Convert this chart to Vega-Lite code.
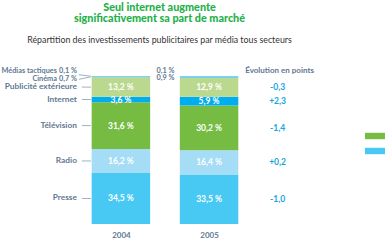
{
  "$schema": "https://vega.github.io/schema/vega-lite/v6.json",
  "width": 385,
  "height": 192,
  "autosize": {"type": "none"},
  "padding": {"top": 48, "left": 0, "right": 0, "bottom": 0},
  "background": "white",
  "config": {
    "font": "Lato",
    "view": {"stroke": null},
    "locale": {
      "number": {
        "decimal": ",",
        "thousands": "\u00a0",
        "grouping": [3],
        "currency": ["", "\u00a0€"],
        "percent": "\u00a0%",
        "minus": "-"
      }
    }
  },
  "title": {
    "text": ["Seul internet augmente", "significativement sa part de marché"],
    "subtitle": "Répartition des investissements publicitaires par  média tous secteurs",
    "anchor": "middle",
    "dx": -33,
    "color": "#1fb14a",
    "fontSize": 10.8,
    "fontWeight": 900,
    "lineHeight": 11,
    "subtitleColor": "#333333",
    "subtitleFontSize": 8.8,
    "subtitlePadding": 12,
    "offset": 3
  },
  "data": {
    "values": [
      {"year": 2004, "media": "Presse", "order": 1, "share": 0.345},
      {"year": 2004, "media": "Radio", "order": 2, "share": 0.162},
      {"year": 2004, "media": "Télévision", "order": 3, "share": 0.316},
      {"year": 2004, "media": "Internet", "order": 4, "share": 0.036},
      {"year": 2004, "media": "Publicité extérieure", "order": 5, "share": 0.132},
      {"year": 2004, "media": "Cinéma", "order": 6, "share": 0.007},
      {"year": 2004, "media": "Médias tactiques", "order": 7, "share": 0.001},
      {"year": 2005, "media": "Presse", "order": 1, "share": 0.335, "evol": -1.0},
      {"year": 2005, "media": "Radio", "order": 2, "share": 0.164, "evol": 0.2},
      {"year": 2005, "media": "Télévision", "order": 3, "share": 0.302, "evol": -1.4},
      {"year": 2005, "media": "Internet", "order": 4, "share": 0.059, "evol": 2.3},
      {"year": 2005, "media": "Publicité extérieure", "order": 5, "share": 0.129, "evol": -0.3},
      {"year": 2005, "media": "Cinéma", "order": 6, "share": 0.009},
      {"year": 2005, "media": "Médias tactiques", "order": 7, "share": 0.001}
    ]
  },
  "transform": [
    {"stack": "share", "groupby": ["year"], "sort": [{"field": "order"}], "as": ["lo", "hi"]},
    {"fold": ["lo", "hi"], "as": ["edge", "pos"]},
    {
      "aggregate": [{"op": "mean", "field": "pos", "as": "mid"}],
      "groupby": ["year", "media", "order", "share", "evol", "lo", "hi"]
    }
  ],
  "encoding": {
    "x": {
      "field": "year",
      "type": "quantitative",
      "scale": {"domain": [2002.6851, 2006.9392], "nice": false, "zero": false},
      "axis": {
        "values": [2004, 2005],
        "format": "d",
        "ticks": false,
        "domain": false,
        "grid": false,
        "labelPadding": 0,
        "offset": -9,
        "title": null,
        "labelColor": "#5f7892",
        "labelFontSize": 8,
        "labelFontWeight": "bold",
        "labelFlush": false
      }
    }
  },
  "layer": [
    {
      "mark": {"type": "bar", "size": 58.5},
      "encoding": {
        "y": {"field": "lo", "type": "quantitative", "scale": {"domain": [-0.1081, 1.1892], "nice": false, "zero": false}, "axis": null},
        "y2": {"field": "hi"},
        "color": {
          "field": "media",
          "type": "nominal",
          "scale": {
            "domain": ["Presse", "Radio", "Télévision", "Internet", "Publicité extérieure", "Cinéma", "Médias tactiques"],
            "range": ["#48c9f4", "#a5dcf6", "#76bc43", "#00aeef", "#bad88e", "#4fc3f0", "#1b355e"]
          },
          "legend": {
            "values": ["Télévision", "Presse"],
            "orient": "none",
            "legendX": 365,
            "legendY": 78,
            "title": null,
            "labels": false,
            "symbolType": "M-1,-0.32H1V0.32H-1Z",
            "symbolSize": 400,
            "symbolStrokeWidth": 0,
            "symbolOpacity": 1,
            "rowPadding": -5,
            "padding": 0
          }
        }
      }
    },
    {
      "transform": [{"filter": "datum.share > 0.02"}],
      "mark": {"type": "text", "color": "white", "fontWeight": "bold", "fontSize": 8.5, "baseline": "middle"},
      "encoding": {
        "y": {"field": "mid", "type": "quantitative", "scale": {"domain": [-0.1081, 1.1892], "nice": false, "zero": false}, "axis": null},
        "text": {"field": "share", "type": "quantitative", "format": ".1%"}
      }
    },
    {
      "transform": [{"filter": "datum.year == 2004 && datum.share > 0.02"}],
      "mark": {"type": "text", "color": "#5f7892", "fontWeight": "bold", "fontSize": 8.3, "align": "right", "baseline": "middle", "dx": -44},
      "encoding": {
        "y": {"field": "mid", "type": "quantitative", "axis": null},
        "text": {"field": "media", "type": "nominal"}
      }
    },
    {
      "transform": [{"filter": "datum.year == 2004 && datum.share > 0.02"}],
      "mark": {"type": "rule", "color": "#9fb2c2", "strokeWidth": 1, "xOffset": -39, "x2Offset": -30},
      "encoding": {
        "x2": {"field": "year"},
        "y": {"field": "mid", "type": "quantitative", "axis": null}
      }
    },
    {
      "transform": [{"filter": "datum.year == 2004 && datum.media == 'Médias tactiques'"}],
      "mark": {"type": "text", "color": "#5f7892", "fontWeight": "bold", "fontSize": 7.3, "align": "right", "baseline": "middle", "dx": -64, "dy": -5.5},
      "encoding": {
        "y": {"field": "mid", "type": "quantitative", "axis": null},
        "text": {"field": "media", "type": "nominal"}
      }
    },
    {
      "transform": [{"filter": "datum.year == 2004 && datum.media == 'Médias tactiques'"}],
      "mark": {"type": "text", "color": "#5f7892", "fontWeight": "bold", "fontSize": 7.3, "align": "right", "baseline": "middle", "dx": -44, "dy": -5.5},
      "encoding": {
        "y": {"field": "mid", "type": "quantitative", "axis": null},
        "text": {"field": "share", "type": "quantitative", "format": ".1%"}
      }
    },
    {
      "transform": [{"filter": "datum.year == 2004 && datum.media == 'Cinéma'"}],
      "mark": {"type": "text", "color": "#5f7892", "fontWeight": "bold", "fontSize": 7.3, "align": "right", "baseline": "middle", "dx": -64, "dy": 2},
      "encoding": {
        "y": {"field": "mid", "type": "quantitative", "axis": null},
        "text": {"field": "media", "type": "nominal"}
      }
    },
    {
      "transform": [{"filter": "datum.year == 2004 && datum.media == 'Cinéma'"}],
      "mark": {"type": "text", "color": "#5f7892", "fontWeight": "bold", "fontSize": 7.3, "align": "right", "baseline": "middle", "dx": -44, "dy": 2},
      "encoding": {
        "y": {"field": "mid", "type": "quantitative", "axis": null},
        "text": {"field": "share", "type": "quantitative", "format": ".1%"}
      }
    },
    {
      "transform": [{"filter": "datum.year == 2004 && datum.media == 'Médias tactiques'"}],
      "mark": {"type": "rule", "color": "#9fb2c2", "strokeWidth": 1, "xOffset": -42, "x2Offset": -30, "yOffset": -1.5, "y2Offset": 0},
      "encoding": {
        "x2": {"field": "year"},
        "y": {"field": "mid", "type": "quantitative", "axis": null},
        "y2": {"field": "mid"}
      }
    },
    {
      "transform": [{"filter": "datum.year == 2004 && datum.media == 'Cinéma'"}],
      "mark": {"type": "rule", "color": "#9fb2c2", "strokeWidth": 1, "xOffset": -42, "x2Offset": -30, "yOffset": 2.5, "y2Offset": 0},
      "encoding": {
        "x2": {"field": "year"},
        "y": {"field": "mid", "type": "quantitative", "axis": null},
        "y2": {"field": "mid"}
      }
    },
    {
      "transform": [{"filter": "datum.year == 2005 && datum.media == 'Médias tactiques'"}],
      "mark": {"type": "text", "color": "#5f7892", "fontWeight": "bold", "fontSize": 7.3, "align": "right", "baseline": "middle", "dx": -34.5, "dy": -5.5},
      "encoding": {
        "y": {"field": "mid", "type": "quantitative", "axis": null},
        "text": {"field": "share", "type": "quantitative", "format": ".1%"}
      }
    },
    {
      "transform": [{"filter": "datum.year == 2005 && datum.media == 'Cinéma'"}],
      "mark": {"type": "text", "color": "#5f7892", "fontWeight": "bold", "fontSize": 7.3, "align": "right", "baseline": "middle", "dx": -34.5, "dy": 1.5},
      "encoding": {
        "y": {"field": "mid", "type": "quantitative", "axis": null},
        "text": {"field": "share", "type": "quantitative", "format": ".1%"}
      }
    },
    {
      "transform": [{"filter": "datum.year == 2005 && datum.media == 'Médias tactiques'"}],
      "mark": {"type": "text", "color": "#5f7892", "fontWeight": "bold", "fontSize": 8, "align": "center", "baseline": "middle", "dx": 70.5, "dy": -5},
      "encoding": {
        "y": {"field": "hi", "type": "quantitative", "axis": null},
        "text": {"value": "Évolution en points"}
      }
    },
    {
      "transform": [{"filter": "datum.year == 2005 && isValid(datum.evol)"}],
      "mark": {"type": "text", "color": "#13a5e2", "fontWeight": "bold", "fontSize": 8.5, "align": "center", "baseline": "middle", "dx": 68.5},
      "encoding": {
        "y": {"field": "mid", "type": "quantitative", "axis": null},
        "text": {"field": "evol", "type": "quantitative", "format": "+.1f"}
      }
    }
  ]
}
